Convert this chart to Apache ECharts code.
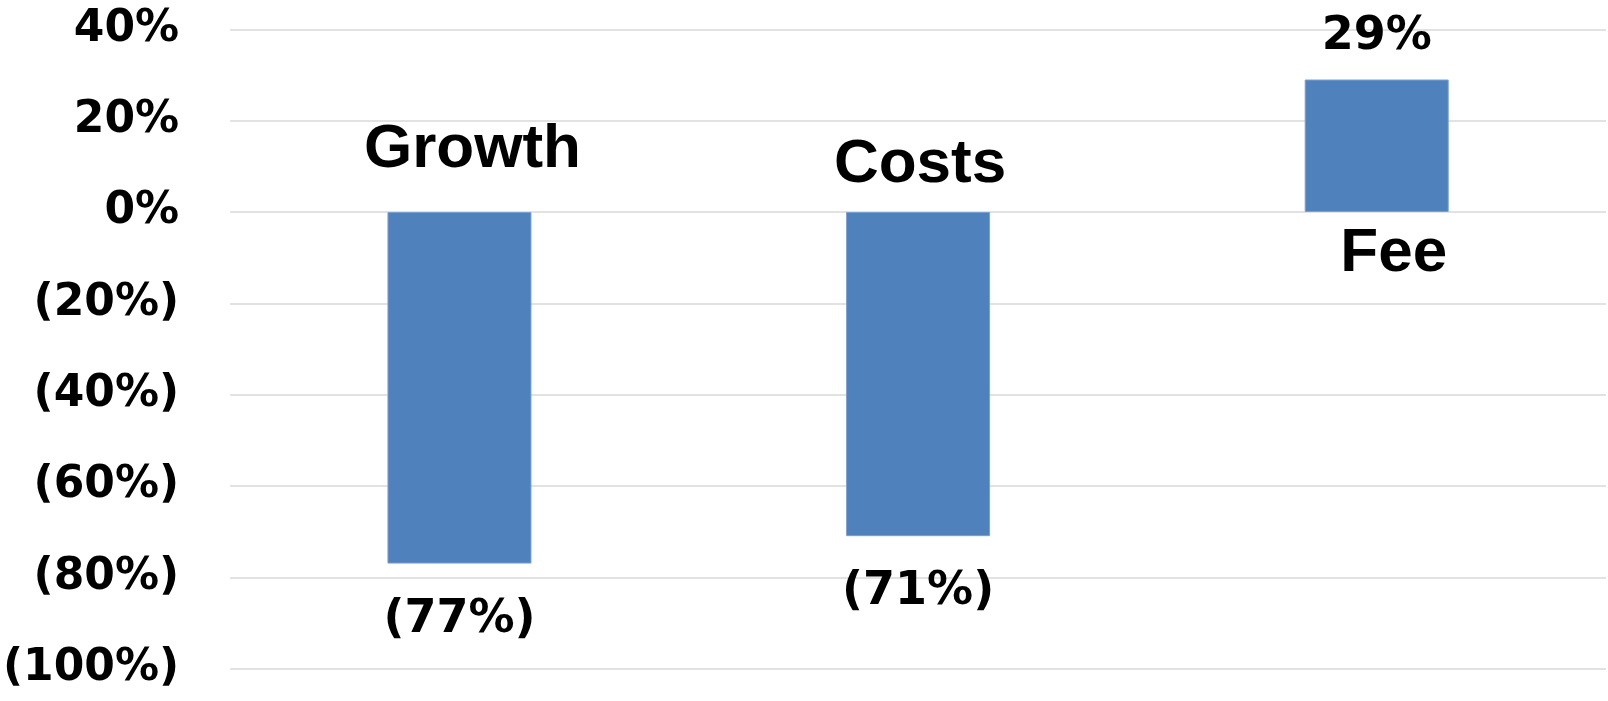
<!DOCTYPE html>
<html>
<head>
<meta charset="utf-8">
<script src="https://cdn.jsdelivr.net/npm/echarts@6/dist/echarts.min.js"></script>
<style>
  html, body { margin: 0; padding: 0; background: #fff; }
  #chart { width: 1608px; height: 701px; }
</style>
</head>
<body>
<div id="chart"></div>
<script>
// data
const categories = ['Growth', 'Costs', 'Fee']
const changePct = [-77, -71, 29]
const axisMin = -100
const axisMax = 40
const axisStep = 20

// label nudges (layout only)
const catLabelDist = [31, 16, 10]
const catLabelShiftX = [13, 2, 17]

const fmtPct = v => (v < 0 ? '(' + Math.abs(v) + '%)' : v + '%')
const numFont = '"DejaVu Sans", sans-serif'
const catFont = '"Liberation Sans", Arial, sans-serif'

const chart = echarts.init(document.getElementById('chart'))

const catLabelStyle = {
  show: true, color: '#000', fontFamily: catFont, fontWeight: 'bold', fontSize: 62,
  textBorderWidth: 0, opacity: 1
}

const catLabels = categories.map((c, i) => ({
  name: c,
  value: [c, 0],
  label: Object.assign({}, catLabelStyle, {
    formatter: c,
    position: changePct[i] < 0 ? 'top' : 'bottom',
    distance: catLabelDist[i],
    offset: [catLabelShiftX[i], 0]
  })
}))

const valueBars = changePct.map(v => ({
  value: v,
  label: { position: v < 0 ? 'bottom' : 'top', distance: v < 0 ? 33 : 19 }
}))

chart.setOption({
  animation: false,
  grid: { left: 228, right: 2, top: 29.3, bottom: 32.4, containLabel: false },
  xAxis: {
    type: 'category', data: categories,
    axisLine: { show: false }, axisTick: { show: false }, axisLabel: { show: false },
    splitLine: { show: false }
  },
  yAxis: {
    type: 'value', min: axisMin, max: axisMax, interval: axisStep,
    axisLine: { show: false }, axisTick: { show: false },
    axisLabel: {
      formatter: fmtPct, margin: 51, color: '#000',
      fontFamily: numFont, fontWeight: 'bold', fontSize: 44
    },
    splitLine: { lineStyle: { color: '#d9d9d9', width: 1.5 } }
  },
  series: [
    {
      type: 'bar', data: valueBars, barWidth: 144,
      itemStyle: { color: '#4f81bd', borderColor: '#7ba0d0', borderWidth: 1 },
      label: {
        show: true, formatter: p => fmtPct(p.value), color: '#000',
        fontFamily: numFont, fontWeight: 'bold', fontSize: 46
      }
    },
    {
      type: 'scatter', data: catLabels, symbolSize: 1, silent: true,
      itemStyle: { color: '#fff', opacity: 0 },
      label: catLabelStyle
    }
  ]
})
</script>
</body>
</html>
